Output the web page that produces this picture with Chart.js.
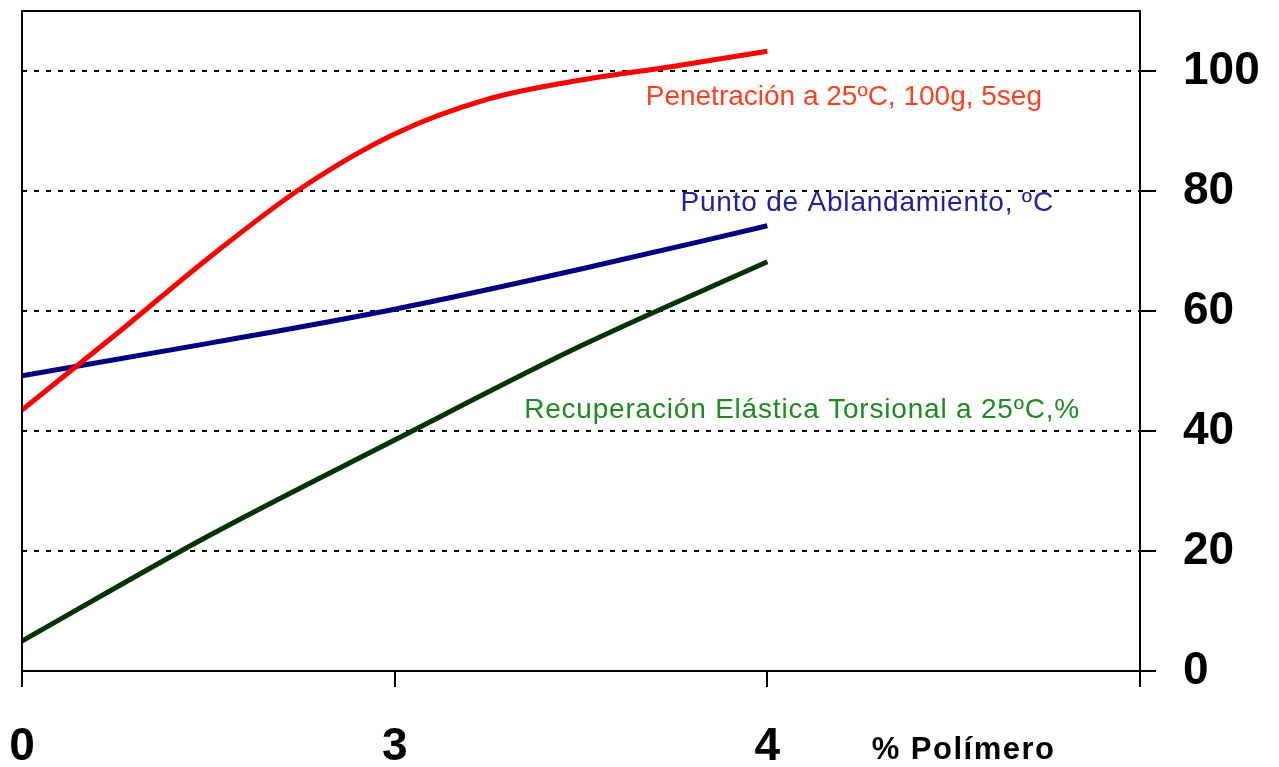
<!DOCTYPE html>
<html>
<head>
<meta charset="utf-8">
<script src="https://cdn.jsdelivr.net/npm/chart.js@4.4.1/dist/chart.umd.min.js"></script>
<style>
  html, body { margin: 0; padding: 0; background: #fff; }
  canvas { display: block; }
</style>
</head>
<body>
<canvas id="chart" width="1279" height="767"></canvas>
<script>
// values: x is the position along the axis (0 -> "0", 1 -> "3", 2 -> "4")
const xTicks = [0, 1, 2, 3];
const xLabels = ['0', '3', '4', ''];
const yTicks = [0, 20, 40, 60, 80, 100];

const penX = [0, 0.25, 0.5, 0.75, 1.0, 1.25, 1.5, 1.75, 2.0];
const penY = [43.5, 56, 68.8, 80.5, 89.5, 95.3, 98.5, 100.8, 103.3];

const puntoX = [0, 0.5, 1.0, 1.5, 2.0];
const puntoY = [49.2, 54.6, 60.3, 67.0, 74.2];

const recX = [0, 0.5, 1.0, 1.5, 2.0];
const recY = [5, 22.5, 38.5, 54.2, 68.2];

const FONT = "'Liberation Sans', Arial, sans-serif";

// series captions, placed in data units
const notes = [
    { text: 'Penetración a 25ºC, 100g, 5seg', x: 2.737, y: 95.7, color: '#ff4020', spacing: '0px' },
    { text: 'Punto de Ablandamiento, ºC', x: 2.769, y: 78.0, color: '#2020a8', spacing: '0.8px' },
    { text: 'Recuperación Elástica Torsional a 25ºC,%', x: 2.839, y: 43.5, color: '#1f8a1f', spacing: '0.8px' }
];

const toPts = (xs, ys) => xs.map((x, i) => ({ x: x, y: ys[i] }));

// chart.js reserves room for half labels at the ends and doubles tick padding,
// so fix the axis boxes by hand
const fitAxis = size => axis => {
    axis.paddingLeft = 0;
    axis.paddingRight = 0;
    axis.paddingTop = 0;
    axis.paddingBottom = 0;
    if (axis.isHorizontal()) axis.height = size;
    else axis.width = size;
};

const notesPlugin = {
    id: 'notes',
    afterDraw(chart) {
        const { ctx, chartArea, scales: { x, y } } = chart;
        ctx.save();
        // top and left frame lines
        ctx.strokeStyle = '#000';
        ctx.lineWidth = 2;
        ctx.beginPath();
        ctx.moveTo(chartArea.left, chartArea.bottom);
        ctx.lineTo(chartArea.left, chartArea.top);
        ctx.lineTo(chartArea.right, chartArea.top);
        ctx.stroke();

        ctx.font = '28px ' + FONT;
        ctx.textAlign = 'right';
        ctx.textBaseline = 'middle';
        notes.forEach(n => {
            ctx.fillStyle = n.color;
            ctx.letterSpacing = n.spacing;
            ctx.fillText(n.text, x.getPixelForValue(n.x), y.getPixelForValue(n.y));
        });

        ctx.font = 'bold 31px ' + FONT;
        ctx.letterSpacing = '1.5px';
        ctx.fillStyle = '#000';
        ctx.textAlign = 'left';
        ctx.fillText('% Polímero', x.getPixelForValue(2.28), y.getPixelForValue(-13.3));
        ctx.restore();
    }
};

new Chart(document.getElementById('chart'), {
    type: 'line',
    data: {
        datasets: [
            { label: 'Penetración', data: toPts(penX, penY), borderColor: '#ff0000' },
            { label: 'Punto de Ablandamiento', data: toPts(puntoX, puntoY), borderColor: '#000080' },
            { label: 'Recuperación Elástica', data: toPts(recX, recY), borderColor: '#003300' }
        ]
    },
    options: {
        responsive: false,
        animation: false,
        layout: { padding: { left: 22, top: 11, right: 19, bottom: 0 } },
        elements: {
            line: { borderWidth: 5, cubicInterpolationMode: 'monotone', fill: false },
            point: { radius: 0 }
        },
        plugins: {
            legend: { display: false },
            tooltip: { enabled: false }
        },
        scales: {
            x: {
                type: 'linear',
                min: 0,
                max: 3,
                afterBuildTicks: axis => { axis.ticks = xTicks.map(v => ({ value: v })); },
                afterFit: fitAxis(96),
                ticks: {
                    callback: (v, i) => xLabels[i],
                    color: '#000',
                    font: { family: FONT, size: 46, weight: 'bold', lineHeight: 0.9 },
                    padding: 40,
                    maxRotation: 0,
                    autoSkip: false
                },
                grid: { drawOnChartArea: false, color: '#000', lineWidth: 2, tickLength: 16 },
                border: { color: '#000', width: 2 }
            },
            y: {
                position: 'right',
                min: 0,
                max: 110,
                afterBuildTicks: axis => { axis.ticks = yTicks.map(v => ({ value: v })); },
                afterFit: fitAxis(120),
                ticks: {
                    color: '#000',
                    font: { family: FONT, size: 46, weight: 'bold' },
                    padding: 27
                },
                grid: { color: '#000', lineWidth: 2, tickLength: 16, tickBorderDash: [] },
                border: { color: '#000', width: 2, dash: [5, 7] }
            }
        }
    },
    plugins: [notesPlugin]
});
</script>
</body>
</html>
